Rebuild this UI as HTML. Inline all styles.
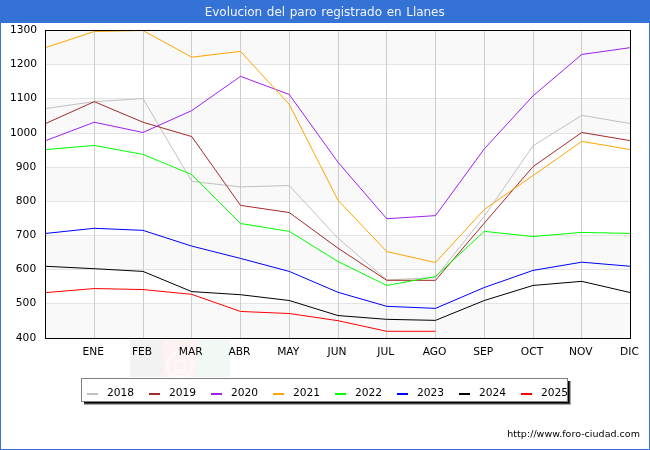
<!DOCTYPE html>
<html lang="es"><head><meta charset="utf-8"><title>Evolucion del paro registrado en Llanes</title>
<style>
html,body{margin:0;padding:0;background:#fff;}
body{width:650px;height:450px;overflow:hidden;font-family:'DejaVu Sans','Liberation Sans',sans-serif;}
svg{display:block;}
text{font-family:'DejaVu Sans','Liberation Sans',sans-serif;}
.t{font-size:10.67px;fill:#000;}
</style></head><body>
<svg width="650" height="450" viewBox="0 0 650 450">
<rect x="0" y="0" width="650" height="450" fill="#ffffff"/>
<g shape-rendering="crispEdges">
<rect x="0" y="0" width="650" height="23" fill="#3472d6"/>
<rect x="0" y="0" width="1" height="450" fill="#3472d6"/>
<rect x="649" y="0" width="1" height="450" fill="#3472d6"/>
<rect x="0" y="449" width="650" height="1" fill="#3472d6"/>
</g>
<text x="324.7" y="15.7" text-anchor="middle" font-size="12" letter-spacing="-0.05" word-spacing="0.95" fill="#f0f4fc">Evolucion del paro registrado en Llanes</text>

<defs><clipPath id="fc"><rect x="130" y="340" width="100" height="37"/></clipPath></defs>
<g shape-rendering="crispEdges"><rect x="130" y="340" width="33" height="37" fill="#f2f2f2"/><rect x="163" y="340" width="33" height="37" fill="#fdf2f1"/><rect x="196" y="340" width="34" height="37" fill="#f2f8f4"/></g>
<g clip-path="url(#fc)" fill="none" stroke="#ffffff" stroke-opacity="0.55"><circle cx="180" cy="365" r="12.5" stroke-width="4" stroke-dasharray="3 0.7"/><path d="M175.5 370 v-5 a4.5 4.5 0 0 1 9 0 v5 z M173 372.5 h14" stroke-width="2"/></g>
<g shape-rendering="crispEdges">
<rect x="45" y="30" width="585" height="34" fill="#f9f9f9"/>
<rect x="45" y="98" width="585" height="35" fill="#f9f9f9"/>
<rect x="45" y="167" width="585" height="34" fill="#f9f9f9"/>
<rect x="45" y="235" width="585" height="34" fill="#f9f9f9"/>
<rect x="45" y="303" width="585" height="35" fill="#f9f9f9"/>
<rect x="45" y="303" width="585" height="1" fill="#e4e4e4"/>
<rect x="45" y="269" width="585" height="1" fill="#e4e4e4"/>
<rect x="45" y="235" width="585" height="1" fill="#e4e4e4"/>
<rect x="45" y="201" width="585" height="1" fill="#e4e4e4"/>
<rect x="45" y="167" width="585" height="1" fill="#e4e4e4"/>
<rect x="45" y="133" width="585" height="1" fill="#e4e4e4"/>
<rect x="45" y="98" width="585" height="1" fill="#e4e4e4"/>
<rect x="45" y="64" width="585" height="1" fill="#e4e4e4"/>
<rect x="94" y="30" width="1" height="308" fill="#cdcdcd"/>
<rect x="143" y="30" width="1" height="308" fill="#cdcdcd"/>
<rect x="191" y="30" width="1" height="308" fill="#cdcdcd"/>
<rect x="240" y="30" width="1" height="308" fill="#cdcdcd"/>
<rect x="289" y="30" width="1" height="308" fill="#cdcdcd"/>
<rect x="338" y="30" width="1" height="308" fill="#cdcdcd"/>
<rect x="386" y="30" width="1" height="308" fill="#cdcdcd"/>
<rect x="435" y="30" width="1" height="308" fill="#cdcdcd"/>
<rect x="484" y="30" width="1" height="308" fill="#cdcdcd"/>
<rect x="533" y="30" width="1" height="308" fill="#cdcdcd"/>
<rect x="581" y="30" width="1" height="308" fill="#cdcdcd"/>
</g>
<polyline points="45.50,108.53 94.25,101.68 143.00,98.60 191.75,181.42 240.50,186.90 289.25,185.53 338.00,238.23 386.75,279.98 435.50,277.58 484.25,216.33 533.00,145.83 581.75,115.37 630.50,123.58" fill="none" stroke="#c0c0c0" stroke-width="1" stroke-linejoin="round"/>
<polyline points="45.50,123.58 94.25,101.68 143.00,122.22 191.75,136.59 240.50,205.38 289.25,212.56 338.00,248.15 386.75,280.32 435.50,280.32 484.25,223.17 533.00,166.70 581.75,132.48 630.50,140.70" fill="none" stroke="#a52a2a" stroke-width="1" stroke-linejoin="round"/>
<polyline points="45.50,140.70 94.25,122.22 143.00,132.48 191.75,110.58 240.50,76.36 289.25,94.50 338.00,162.26 386.75,218.72 435.50,215.64 484.25,148.91 533.00,95.86 581.75,54.46 630.50,47.61" fill="none" stroke="#a020f0" stroke-width="1" stroke-linejoin="round"/>
<polyline points="45.50,47.61 94.25,31.53 143.00,30.50 191.75,57.19 240.50,51.38 289.25,104.42 338.00,200.24 386.75,251.58 435.50,262.53 484.25,209.48 533.00,175.60 581.75,141.38 630.50,149.59" fill="none" stroke="#ffa500" stroke-width="1" stroke-linejoin="round"/>
<polyline points="45.50,149.59 94.25,145.49 143.00,154.38 191.75,174.58 240.50,223.51 289.25,231.38 338.00,261.50 386.75,285.46 435.50,276.56 484.25,231.38 533.00,236.52 581.75,232.41 630.50,233.44" fill="none" stroke="#00ff00" stroke-width="1" stroke-linejoin="round"/>
<polyline points="45.50,233.44 94.25,228.30 143.00,230.36 191.75,246.10 240.50,258.42 289.25,271.42 338.00,292.30 386.75,306.33 435.50,308.38 484.25,287.51 533.00,270.40 581.75,262.18 630.50,266.29" fill="none" stroke="#0000ff" stroke-width="1" stroke-linejoin="round"/>
<polyline points="45.50,266.29 94.25,268.69 143.00,271.42 191.75,291.62 240.50,294.70 289.25,300.51 338.00,315.57 386.75,319.34 435.50,320.36 484.25,300.51 533.00,285.46 581.75,281.35 630.50,292.64" fill="none" stroke="#000000" stroke-width="1" stroke-linejoin="round"/>
<polyline points="45.50,292.64 94.25,288.54 143.00,289.56 191.75,294.35 240.50,311.46 289.25,313.52 338.00,320.70 386.75,331.31 435.50,331.31" fill="none" stroke="#ff0000" stroke-width="1" stroke-linejoin="round"/>
<rect x="45.5" y="30.5" width="585" height="308" fill="none" stroke="#000" stroke-width="1" shape-rendering="crispEdges"/>
<text class="t" x="36.2" y="341" text-anchor="end">400</text>
<text class="t" x="36.2" y="306" text-anchor="end">500</text>
<text class="t" x="36.2" y="272" text-anchor="end">600</text>
<text class="t" x="36.2" y="238" text-anchor="end">700</text>
<text class="t" x="36.2" y="204" text-anchor="end">800</text>
<text class="t" x="36.2" y="170" text-anchor="end">900</text>
<text class="t" x="37" y="136" text-anchor="end">1000</text>
<text class="t" x="37" y="101" text-anchor="end">1100</text>
<text class="t" x="37" y="67" text-anchor="end">1200</text>
<text class="t" x="37" y="33" text-anchor="end">1300</text>
<text class="t" x="93.25" y="355" text-anchor="middle">ENE</text>
<text class="t" x="142.00" y="355" text-anchor="middle">FEB</text>
<text class="t" x="190.75" y="355" text-anchor="middle">MAR</text>
<text class="t" x="239.50" y="355" text-anchor="middle">ABR</text>
<text class="t" x="288.25" y="355" text-anchor="middle">MAY</text>
<text class="t" x="337.00" y="355" text-anchor="middle">JUN</text>
<text class="t" x="385.75" y="355" text-anchor="middle">JUL</text>
<text class="t" x="434.50" y="355" text-anchor="middle">AGO</text>
<text class="t" x="483.25" y="355" text-anchor="middle">SEP</text>
<text class="t" x="532.00" y="355" text-anchor="middle">OCT</text>
<text class="t" x="580.75" y="355" text-anchor="middle">NOV</text>
<text class="t" x="629.50" y="355" text-anchor="middle">DIC</text>
<g shape-rendering="crispEdges"><rect x="84" y="381" width="487" height="24" fill="#a8a8a8"/><rect x="84" y="381" width="486" height="23" fill="#404040"/><rect x="84" y="381" width="485" height="22" fill="#000"/></g>
<rect x="81.5" y="378.5" width="486" height="23" fill="#fff" stroke="#808080" stroke-width="1" shape-rendering="crispEdges"/>
<rect x="87" y="393" width="11" height="2" fill="#c0c0c0" shape-rendering="crispEdges"/>
<text class="t" x="107" y="396">2018</text>
<rect x="149" y="393" width="11" height="2" fill="#a52a2a" shape-rendering="crispEdges"/>
<text class="t" x="169" y="396">2019</text>
<rect x="211" y="393" width="11" height="2" fill="#a020f0" shape-rendering="crispEdges"/>
<text class="t" x="231" y="396">2020</text>
<rect x="273" y="393" width="11" height="2" fill="#ffa500" shape-rendering="crispEdges"/>
<text class="t" x="293" y="396">2021</text>
<rect x="335" y="393" width="11" height="2" fill="#00ff00" shape-rendering="crispEdges"/>
<text class="t" x="355" y="396">2022</text>
<rect x="397" y="393" width="11" height="2" fill="#0000ff" shape-rendering="crispEdges"/>
<text class="t" x="417" y="396">2023</text>
<rect x="459" y="393" width="11" height="2" fill="#000000" shape-rendering="crispEdges"/>
<text class="t" x="479" y="396">2024</text>
<rect x="521" y="393" width="11" height="2" fill="#ff0000" shape-rendering="crispEdges"/>
<text class="t" x="541" y="396">2025</text>
<text x="507.3" y="437" font-size="9.5" letter-spacing="0.03" fill="#000">http://www.foro-ciudad.com</text>
</svg></body></html>
